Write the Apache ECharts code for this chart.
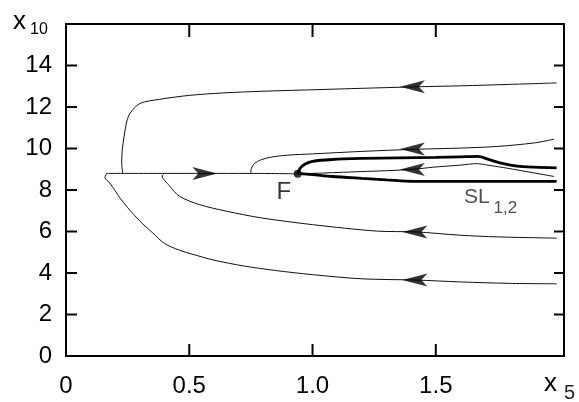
<!DOCTYPE html>
<html><head><meta charset="utf-8">
<script src="https://cdn.jsdelivr.net/npm/echarts@6/dist/echarts.min.js"></script>
<style>html,body{margin:0;padding:0;background:#fff}#c{width:579px;height:402px}</style>
</head><body><div id="c"></div>
<script>
// tick values and tick labels
const xTickValues = [0.5, 1.0, 1.5];
const yTickValues = [2, 4, 6, 8, 10, 12, 14];
const xLabelValues = [0, 0.5, 1.0, 1.5];
const yLabelValues = [0, 2, 4, 6, 8, 10, 12, 14];

// trajectories [x5, x10]
const curveTop = [[1.99,13.16],[1.8,13.09],[1.6,13.02],[1.41,12.97],[1.2,12.9],[1.03,12.84],[0.8,12.76],[0.64,12.68],[0.5,12.56],[0.38,12.37],[0.30,12.17],[0.26,11.7],[0.246,11.28],[0.236,10.6],[0.228,9.9],[0.226,9.3],[0.23,8.8]];
const curveMid10 = [[1.98,10.45],[1.9,10.27],[1.75,10.1],[1.6,10.02],[1.41,9.96],[1.2,9.86],[1.0,9.74],[0.9,9.68],[0.83,9.58],[0.79,9.45],[0.765,9.28],[0.752,9.05],[0.75,8.82]];
const curveHoriz = [[0.165,8.8],[0.4,8.8],[0.56,8.8],[0.75,8.8],[0.94,8.78]];
const curveLow6 = [[0.40,8.8],[0.39,8.68],[0.42,8.2],[0.46,7.7],[0.54,7.3],[0.65,6.98],[0.79,6.66],[1.0,6.33],[1.26,6.02],[1.42,5.98],[1.6,5.82],[1.75,5.74],[1.99,5.68]];
const curveLow3 = [[0.165,8.8],[0.158,8.6],[0.178,8.33],[0.22,7.6],[0.25,7.15],[0.30,6.5],[0.35,5.95],[0.40,5.42],[0.46,5.1],[0.52,4.88],[0.6,4.62],[0.72,4.34],[0.85,4.12],[1.0,3.92],[1.2,3.72],[1.42,3.66],[1.6,3.57],[1.8,3.5],[1.99,3.48]];
const curveInner = [[1.98,8.65],[1.9,8.82],[1.79,9.05],[1.72,9.18],[1.665,9.27],[1.6,9.2],[1.49,9.1],[1.41,9.0],[1.3,8.93],[1.2,8.89],[1.05,8.82],[0.94,8.78]];
const slUpper = [[0.94,8.8],[0.95,9.05],[0.97,9.25],[1.0,9.38],[1.08,9.47],[1.2,9.52],[1.35,9.55],[1.5,9.57],[1.6,9.6],[1.67,9.62],[1.72,9.45],[1.77,9.28],[1.83,9.15],[1.9,9.1],[1.99,9.07]];
const slLower = [[0.94,8.8],[1.0,8.74],[1.08,8.65],[1.2,8.56],[1.3,8.49],[1.41,8.42],[1.6,8.42],[1.8,8.42],[1.99,8.42]];

// arrows and the fixed point
const arrowsLeft = [[1.405,12.97],[1.405,9.97],[1.405,8.99],[1.415,5.98],[1.415,3.66]];
const arrowsRight = [[0.563,8.8]];
const fixedPoint = [[0.94,8.78]];

// annotations
const textF = [0.884, 7.88];
const textSL = [1.666, 7.67];
const textSub = [1.782, 7.14];

const X_MIN = 0, X_MAX = 2.02, Y_MIN = 0, Y_MAX = 16;
const FONT = '"Liberation Sans", Arial, sans-serif';
const thin = {color:'#111', width:1};
const thick = {color:'#000', width:2.8};
function line(data, style){
  return {type:'line', data:data, showSymbol:false, smooth:0.3, lineStyle:style, silent:true, z:2, animation:false};
}
function textPt(pos, txt, size, color){
  return {type:'scatter', data:[pos], symbolSize:1, itemStyle:{color:'rgba(0,0,0,0)'}, animation:false,
    label:{show:true, position:'inside', formatter:txt, fontFamily:FONT, fontSize:size, color:color}};
}
// inward tick marks drawn as short line segments through the axis scales
function tickSeg(values, toPoint, dx, dy){
  return {type:'custom', coordinateSystem:'cartesian2d', clip:false, silent:true, z:10, animation:false,
    data: values.map(v => toPoint(v)),
    encode:{x:0, y:1},
    renderItem:function(params, api){
      const p = api.coord([api.value(0), api.value(1)]);
      return {type:'line', shape:{x1:p[0], y1:p[1], x2:p[0]+dx, y2:p[1]+dy},
        style:{stroke:'#000', lineWidth:2, fill:null}};
    }};
}

function boxAxis(min, max, interval, pos, label){
  return {type:'value', min:min, max:max, interval:interval, position:pos,
    axisLine:{show:true, onZero:false, lineStyle:{color:'#000', width:2}},
    axisTick:{show:false}, axisLabel:label || {show:false}, splitLine:{show:false}};
}

const chart = echarts.init(document.getElementById('c'), null, {renderer:'canvas'});
chart.setOption({
  animation:false,
  backgroundColor:'#fff',
  grid:{left:66, right:15, top:24, bottom:46, containLabel:false},
  xAxis:[
    boxAxis(X_MIN, X_MAX, 0.5, 'bottom', {show:true, customValues:xLabelValues, margin:18, fontFamily:FONT, fontSize:24, color:'#000',
       formatter:v => (v === 0 ? '0' : v.toFixed(1))}),
    boxAxis(X_MIN, X_MAX, 0.5, 'top')
  ],
  yAxis:[
    boxAxis(Y_MIN, Y_MAX, 2, 'left', {show:true, margin:14, fontFamily:FONT, fontSize:24, color:'#000',
       formatter:v => (yLabelValues.indexOf(v) < 0 ? '' : String(v))}),
    boxAxis(Y_MIN, Y_MAX, 2, 'right')
  ],
  graphic:[
    {type:'text', left:13, top:9, style:{text:'x', font:'26px ' + FONT, fill:'#000'}},
    {type:'text', left:30, top:22, style:{text:'10', font:'16px ' + FONT, fill:'#000'}},
    {type:'text', left:544, top:371, style:{text:'x', font:'26px ' + FONT, fill:'#000'}},
    {type:'text', left:564, top:383, style:{text:'5', font:'20px ' + FONT, fill:'#222'}}
  ],
  series:[
    line(curveTop, thin),
    line(curveMid10, thin),
    line(curveHoriz, thin),
    line(curveLow6, thin),
    line(curveLow3, thin),
    line(curveInner, thin),
    line(slUpper, thick),
    line(slLower, thick),
    {type:'scatter', data:arrowsLeft, symbol:'path://M0,6 L25,0 L19,6 L25,12 Z', symbolSize:[25,13],
     itemStyle:{color:'#000'}, z:5, animation:false},
    {type:'scatter', data:arrowsRight, symbol:'path://M25,6 L0,0 L6,6 L0,12 Z', symbolSize:[25,13],
     itemStyle:{color:'#000'}, z:5, animation:false},
    {type:'scatter', data:fixedPoint, symbol:'circle', symbolSize:8, itemStyle:{color:'#000'}, z:6, animation:false},
    textPt(textF, 'F', 24, '#000'),
    textPt(textSL, 'SL', 21, '#222'),
    textPt(textSub, '1,2', 17, '#222'),
    tickSeg(xTickValues, v => [v, Y_MIN], 0, -12),
    tickSeg(xTickValues, v => [v, Y_MAX], 0, 13),
    tickSeg(yTickValues, v => [X_MIN, v], 11, 0),
    tickSeg(yTickValues, v => [X_MAX, v], -10, 0)
  ]
});
</script></body></html>
